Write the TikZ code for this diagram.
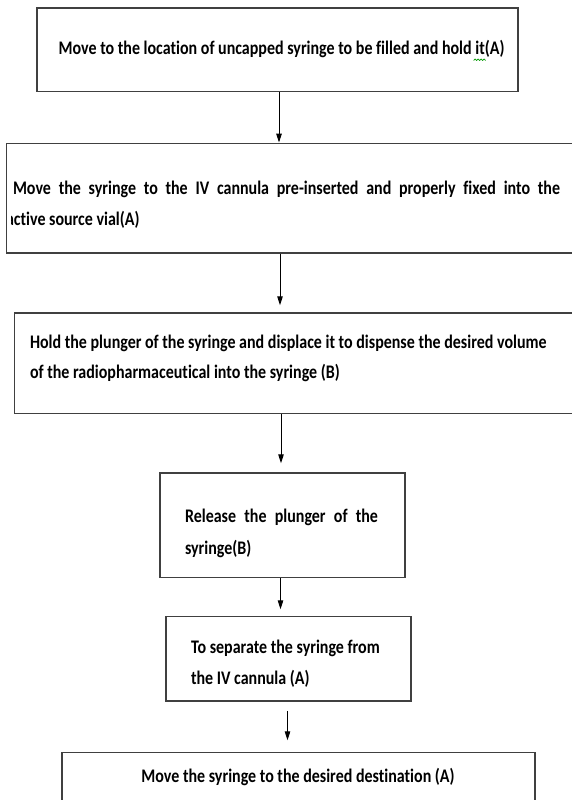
\documentclass[tikz,border=0pt]{standalone}
\usepackage{fontspec}
\usepackage{graphicx}
\setmainfont[Ligatures=NoCommon]{Carlito}
\usetikzlibrary{arrows.meta}
\newcommand\vstr[1]{\scalebox{1}[1.2]{#1}}
\begin{document}
\begin{tikzpicture}[x=1pt,y=-1pt,
  box/.style={draw=black!75, line width=1.5pt, rectangle, inner sep=0pt, fill=none},
  txt/.style={inner sep=0pt, outer sep=0pt, anchor=base west, font=\fontsize{16}{19}\selectfont\bfseries},
  txtc/.style={txt, anchor=base},
  squig/.style={draw=green!60!black, line width=0.7pt},
  arr/.style={draw=black, line width=1pt, -{Triangle[length=9pt,width=5.5pt]}}]
\useasboundingbox[fill=white] (0,0) rectangle (572,800);
% boxes
\node[box, minimum width=481, minimum height=83.5] (b1) at (277.5,49.75) {};
\node[box, minimum width=593.3, minimum height=109.7] (b2) at (303.35,198.15) {};
\node[box, minimum width=585.5, minimum height=100.5] (b3) at (307.25,363.25) {};
\node[box, minimum width=245, minimum height=104.7] (b4) at (282.5,525.35) {};
\node[box, minimum width=245, minimum height=84.3] (b5) at (288.5,658.85) {};
\node[box, minimum width=473, minimum height=77.5] (b6) at (298.5,791.25) {};
% texts
\node[txtc] (t1) at (281.5,55) {\vstr{Move to the location of uncapped syringe to be filled and hold it(A)}};
\draw[squig] (473.5,60.5) -- (475,59) -- (476.5,60.5) -- (478,59) -- (479.5,60.5) -- (481,59) -- (482.5,60.5) -- (484,59) -- (485.5,60.5);
\node[txt] (t2a) at (13,194) {\vstr{\makebox[547pt][s]{Move the syringe to the IV cannula pre-inserted and properly fixed into the}}};
\begin{scope}
\clip (11,205) rectangle (300,240);
\node[txt] (t2b) at (6,225) {\vstr{active source vial(A)}};
\end{scope}
\node[txt] (t3a) at (30,348) {\vstr{Hold the plunger of the syringe and displace it to dispense the desired volume}};
\node[txt] (t3b) at (30,378) {\vstr{of the radiopharmaceutical into the syringe (B)}};
\node[txt] (t4a) at (185,522) {\vstr{\makebox[193pt][s]{Release the plunger of the}}};
\node[txt] (t4b) at (185,554) {\vstr{syringe(B)}};
\node[txt] (t5a) at (191,653) {\vstr{To separate the syringe from}};
\node[txt] (t5b) at (191,684) {\vstr{the IV cannula (A)}};
\node[txtc] (t6) at (298,782) {\vstr{Move the syringe to the desired destination (A)}};
% connectors
\draw[arr] (279,0 |- b1.south) -- (279,0 |- b2.north);
\draw[arr, shorten >=7pt] (280,0 |- b2.south) -- (280,0 |- b3.north);
\draw[arr, shorten >=9pt] (281,0 |- b3.south) -- (281,0 |- b4.north);
\draw[arr, shorten >=6.7pt] (280.5,0 |- b4.south) -- (280.5,0 |- b5.north);
\draw[arr, shorten <=9pt, shorten >=11.5pt] (287.5,0 |- b5.south) -- (287.5,0 |- b6.north);
\end{tikzpicture}
\end{document}
